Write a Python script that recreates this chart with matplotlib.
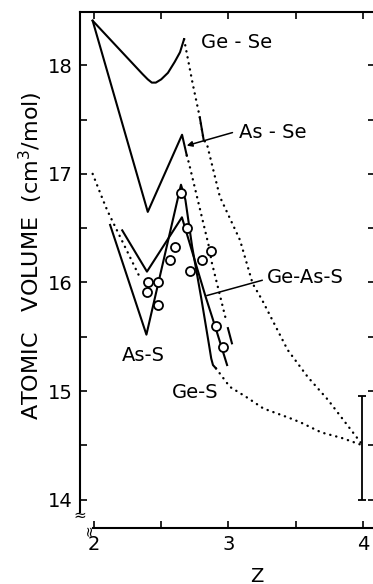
import matplotlib
matplotlib.use("Agg")
import matplotlib.pyplot as plt
import numpy as np

# ---------------- data ----------------
gese_solid_z = [1.99, 2.36, 2.40, 2.43, 2.46, 2.50, 2.55, 2.60, 2.64, 2.67]
gese_solid_v = [18.41, 17.92, 17.87, 17.84, 17.84, 17.87, 17.93, 18.03, 18.12, 18.24]

gese_dot_z = [2.67, 2.734, 2.787, 2.816, 2.839, 2.936, 3.086, 3.18, 3.25, 3.44, 3.59, 3.74, 4.0]
gese_dot_v = [18.24, 17.83, 17.52, 17.31, 17.28, 16.79, 16.39, 15.99, 15.84, 15.38, 15.13, 14.92, 14.50]
gese_dash_z = [2.787, 2.816]
gese_dash_v = [17.52, 17.31]

asse_solid_z = [1.99, 2.40, 2.655, 2.69]
asse_solid_v = [18.41, 16.65, 17.36, 17.17]
asse_dot_z = [2.69, 2.706, 2.855, 2.877, 2.981]
asse_dot_v = [17.17, 17.10, 16.33, 16.18, 15.66]
asse_dash_z = [2.996, 3.026]
asse_dash_v = [15.58, 15.44]

ass_solid_z = [2.12, 2.39, 2.647, 2.68, 2.73, 2.80, 2.855, 2.872, 2.885, 2.907]
ass_solid_v = [16.53, 15.52, 16.90, 16.76, 16.33, 15.84, 15.43, 15.30, 15.24, 15.21]

ges_dot_z = [2.907, 3.01, 3.14, 3.26, 3.46, 3.54, 3.69, 3.84, 4.0]
ges_dot_v = [15.21, 15.04, 14.94, 14.84, 14.75, 14.71, 14.62, 14.57, 14.50]

geass_solid_z = [2.21, 2.394, 2.654, 2.83, 2.90, 2.99]
geass_solid_v = [16.48, 16.10, 16.60, 15.87, 15.60, 15.24]

s_dot_z = [1.99, 2.07, 2.10, 2.34]
s_dot_v = [17.00, 16.75, 16.66, 16.05]

exp_z = [2.647, 2.691, 2.602, 2.565, 2.870, 2.803, 2.714, 2.401, 2.476, 2.394, 2.476, 2.907, 2.959]
exp_v = [16.82, 16.50, 16.33, 16.21, 16.29, 16.21, 16.11, 16.00, 16.00, 15.91, 15.79, 15.60, 15.41]

err_z = [3.99]
err_v = [14.5]
err_lo = [0.50]
err_hi = [0.455]

y_ticks = [14, 15, 16, 17, 18]
x_ticks = [2, 3, 4]

# ---------------- figure ----------------
fig = plt.figure(figsize=(3.73, 5.84), dpi=100)
ax = fig.add_axes([80/373, 56/584, 295/373, 516/584])

solid = dict(color="black", lw=1.5, solid_joinstyle="round")
dotted = dict(color="black", lw=1.7, linestyle=(0, (0.1, 2.5)), dash_capstyle="round")

ax.plot(gese_solid_z, gese_solid_v, **solid)
ax.plot(gese_dot_z, gese_dot_v, **dotted)
ax.plot(gese_dash_z, gese_dash_v, **solid)
ax.plot(asse_solid_z, asse_solid_v, **solid)
ax.plot(asse_dot_z, asse_dot_v, **dotted)
ax.plot(asse_dash_z, asse_dash_v, **solid)
ax.plot(ass_solid_z, ass_solid_v, **solid)
ax.plot(ges_dot_z, ges_dot_v, **dotted)
ax.plot(geass_solid_z, geass_solid_v, **solid)
ax.plot(s_dot_z, s_dot_v, **dotted)

ax.plot(exp_z, exp_v, linestyle="none", marker="o", markersize=6.5,
        markerfacecolor="white", markeredgecolor="black", markeredgewidth=1.3, zorder=5)

ax.errorbar(err_z, err_v, yerr=[err_lo, err_hi], fmt="none", ecolor="black",
            elinewidth=1.3, capsize=3, capthick=1.3)

# labels with leaders
tkw = dict(fontsize=14, color="black", va="center", ha="left")
ax.text(2.796, 18.21, "Ge - Se", **tkw)
ax.text(3.078, 17.38, "As - Se", **tkw)
ax.text(3.286, 16.05, "Ge-As-S", **tkw)
ax.text(2.21, 15.33, "As-S", **tkw)
ax.text(2.58, 14.99, "Ge-S", **tkw)
ax.annotate("", xy=(2.69, 17.26), xytext=(3.03, 17.38),
            arrowprops=dict(arrowstyle="-|>", color="black", lw=1.1,
                            mutation_scale=8, shrinkA=0, shrinkB=0))
ax.plot([2.84, 3.25], [15.88, 16.02], color="black", lw=1.1)

# axes styling
ax.set_xlim(1.896, 4.09)
ax.set_ylim(13.74, 18.49)
ax.set_xticks(x_ticks)
ax.set_xticks([2.5, 3.5], minor=True)
ax.set_yticks(y_ticks)
ax.set_yticks([14.5, 15.5, 16.5, 17.5], minor=True)
ax.tick_params(which="both", direction="in", length=5, width=1.2,
               top=True, right=True, labelsize=14, pad=5)
for s in ax.spines.values():
    s.set_linewidth(1.5)
ax.spines["left"].set_bounds(13.89, 18.49)
ax.spines["bottom"].set_bounds(1.99, 4.09)

# axis break marks
ax.text(1.896, 13.86, "≈", fontsize=11, ha="center", va="center", clip_on=False)
ax.text(1.962, 13.72, "≈", fontsize=10, ha="center", va="center", rotation=90, clip_on=False)

fig.text(31/373, 1 - 256/584, "ATOMIC   VOLUME  (cm$^3$/mol)", rotation=90,
         fontsize=16, ha="center", va="center")
fig.text(257/373, 1 - 576/584, "Z", fontsize=14, ha="center", va="center")

fig.savefig("out.png", dpi=100)
